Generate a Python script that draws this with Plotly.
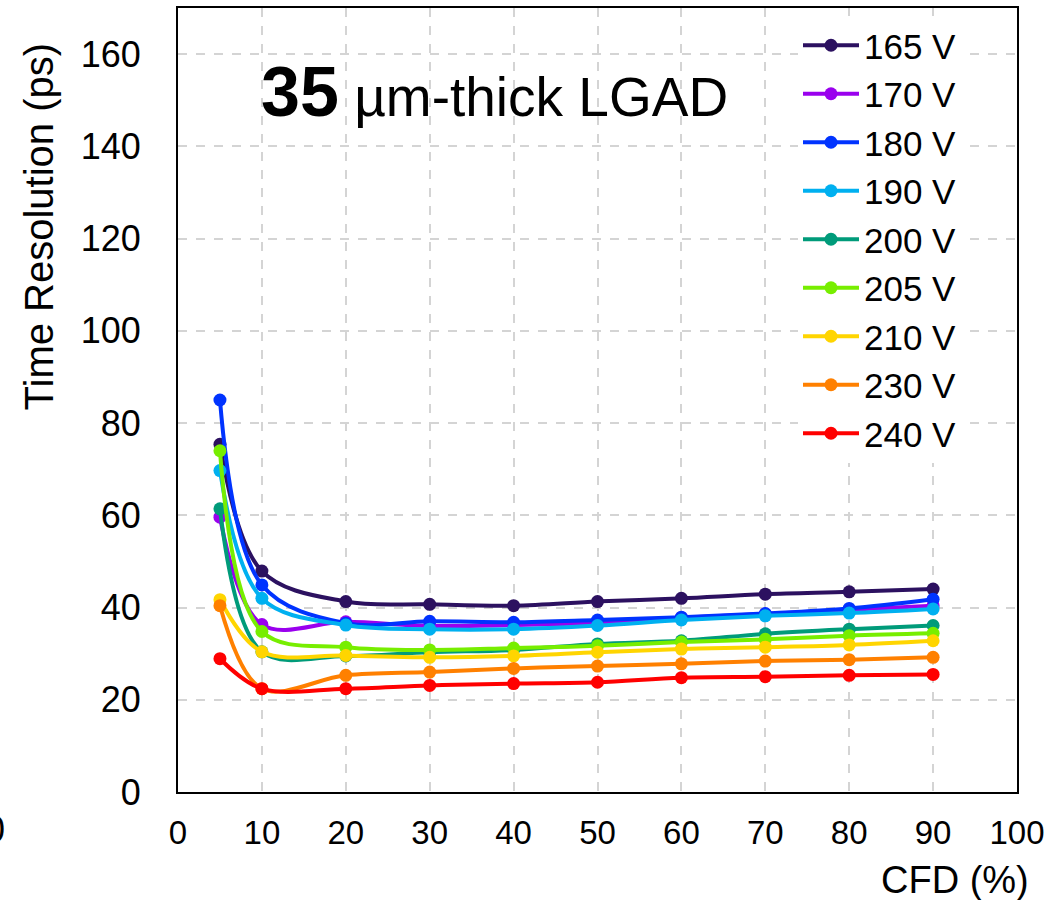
import plotly.graph_objects as go

# CFD threshold (%) at which the time resolution was evaluated
cfd = [5, 10, 20, 30, 40, 50, 60, 70, 80, 90]

# Bias voltages and their time-resolution curves (ps)
labels = ["165 V", "170 V", "180 V", "190 V", "200 V", "205 V", "210 V", "230 V", "240 V"]
res_165 = [75.4, 47.9, 41.3, 40.7, 40.4, 41.3, 42.0, 42.9, 43.4, 44.0]
res_170 = [59.6, 36.3, 36.9, 36.0, 36.2, 36.7, 37.8, 38.6, 39.5, 40.4]
res_180 = [85.0, 44.9, 36.6, 37.0, 36.8, 37.3, 37.9, 38.7, 39.8, 41.8]
res_190 = [69.7, 42.0, 36.2, 35.3, 35.3, 36.1, 37.3, 38.2, 38.8, 39.7]
res_200 = [61.4, 30.4, 29.5, 30.3, 30.8, 32.1, 32.8, 34.3, 35.3, 36.1]
res_205 = [74.0, 34.8, 31.4, 30.8, 31.2, 31.7, 32.5, 33.1, 33.9, 34.4]
res_210 = [41.7, 30.4, 29.6, 29.2, 29.5, 30.3, 31.0, 31.4, 31.9, 32.8]
res_230 = [40.4, 22.4, 25.3, 26.0, 26.8, 27.3, 27.8, 28.4, 28.7, 29.2]
res_240 = [28.9, 22.4, 22.4, 23.1, 23.5, 23.8, 24.8, 25.0, 25.3, 25.5]

series = [res_165, res_170, res_180, res_190, res_200, res_205, res_210, res_230, res_240]
colors = ["#2c1160", "#9a00ee", "#0033ff", "#00b0f0", "#009b7a",
          "#77ee00", "#ffd500", "#ff8000", "#ff0000"]

x_ticks = list(range(0, 101, 10))
y_ticks = list(range(0, 161, 20))

FONT = "Liberation Sans, Arial, sans-serif"

# figure / plot-area geometry in pixels
W, H = 1059, 900
ML, MR, MT, MB = 178, 42, 6, 108
PW, PH = W - ML - MR, H - MT - MB


def px(x):
    return (x - ML) / PW


def py(y):
    return 1 - (y - MT) / PH


fig = go.Figure()
for name, vals, col in zip(labels, series, colors):
    fig.add_trace(go.Scatter(
        x=cfd, y=vals, name=name, mode="lines+markers",
        line=dict(color=col, width=4, shape="spline", smoothing=1.0),
        marker=dict(color=col, size=13),
    ))

axis_style = dict(showgrid=True, gridcolor="#d4d4d4", griddash="dash", gridwidth=1.5,
                  showline=True, linecolor="black", linewidth=2, mirror=True,
                  zeroline=False, ticks="")

fig.update_xaxes(range=[0, 100], tickvals=x_ticks, ticktext=[str(v) for v in x_ticks],
                 ticklabelstandoff=10,
                 tickfont=dict(family=FONT, size=33, color="black"), **axis_style)
fig.update_yaxes(range=[0, 170], tickvals=y_ticks, ticktext=[str(v) for v in y_ticks],
                 ticklabelstandoff=28,
                 tickfont=dict(family=FONT, size=36, color="black"), **axis_style)

fig.update_layout(
    width=W, height=H,
    margin=dict(l=ML, r=MR, t=MT, b=MB),
    paper_bgcolor="white", plot_bgcolor="white",
    showlegend=True,
    legend=dict(x=px(798), y=py(14), xanchor="left", yanchor="top",
                bgcolor="white", borderwidth=0, tracegroupgap=0,
                font=dict(family=FONT, size=35, color="black"),
                itemwidth=56),
    annotations=[
        dict(text="<b>35</b><span style='font-size:55px'> µm-thick LGAD</span>",
             x=px(494), y=py(90), xref="paper", yref="paper",
             xanchor="center", yanchor="middle", showarrow=False,
             font=dict(family=FONT, size=70, color="black")),
        dict(text="Time Resolution (ps)", textangle=-90, x=px(39), y=py(225),
             xref="paper", yref="paper", xanchor="center", yanchor="middle",
             showarrow=False,
             font=dict(family=FONT, size=40, color="black")),
        dict(text="CFD (%)", x=px(1031), y=py(880), xref="paper", yref="paper",
             xanchor="right", yanchor="middle", showarrow=False,
             font=dict(family=FONT, size=38, color="black")),
        dict(text="0", x=px(7), y=py(830), xref="paper", yref="paper",
             xanchor="right", yanchor="middle", showarrow=False,
             font=dict(family=FONT, size=36, color="black")),
    ],
)

fig.write_html("out.html")
